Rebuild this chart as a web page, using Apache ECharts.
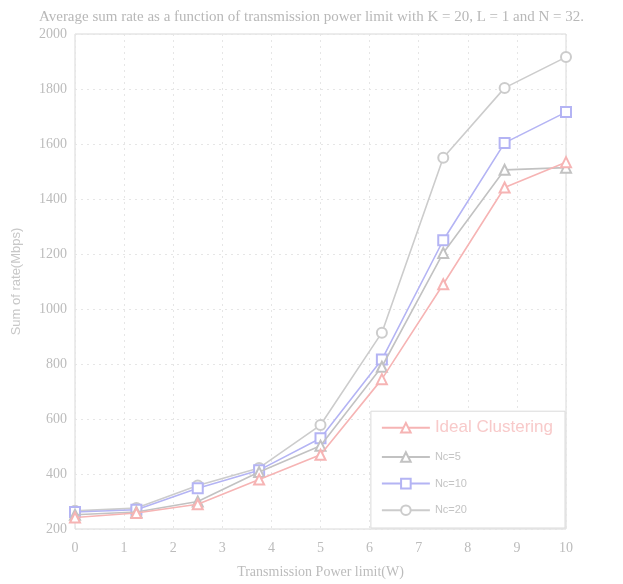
<!DOCTYPE html>
<html>
<head>
<meta charset="utf-8">
<script src="https://cdn.jsdelivr.net/npm/echarts@6/dist/echarts.min.js"></script>
<style>html,body{margin:0;padding:0;background:#fff;}#c{width:623px;height:584px;}</style>
</head>
<body>
<div id="c"></div>
<script>
const powerLimits = [0, 1.25, 2.5, 3.75, 5, 6.25, 7.5, 8.75, 10];
const seriesNames = ['Ideal Clustering', 'Nc=5', 'Nc=10', 'Nc=20'];
const idealClustering = [242, 258, 290, 380, 470, 745, 1090, 1442, 1534];
const nc5 = [252, 262, 300, 407, 503, 790, 1204, 1506, 1514];
const nc10 = [262, 270, 348, 414, 530, 816, 1250, 1604, 1716];
const nc20 = [266, 276, 358, 422, 578, 914, 1550, 1804, 1916];
const xTicks = [0,1,2,3,4,5,6,7,8,9,10];
const yTicks = [200,400,600,800,1000,1200,1400,1600,1800,2000];

const colors = ['#f6b4b4', '#c2c2c2', '#b4b4f4', '#cccccc'];
const symbols = ['emptyTriangle', 'emptyTriangle', 'emptyRect', 'emptyCircle'];
const values = [idealClustering, nc5, nc10, nc20];

const chart = echarts.init(document.getElementById('c'));
const axisText = {color: '#bcbcbc', fontFamily: 'Liberation Serif', fontSize: 14};
chart.setOption({
  animation: false,
  title: {
    text: 'Average sum rate as a function of transmission power limit with K = 20, L = 1 and N = 32.',
    left: 'center', top: 5,
    textStyle: {color: '#b8b8b8', fontFamily: 'Liberation Serif', fontSize: 15, fontWeight: 'normal'}
  },
  grid: {left: 75, right: 57, top: 34, bottom: 55, show: true, borderColor: '#d8d8d8', borderWidth: 1},
  xAxis: {
    type: 'value', min: 0, max: 10, interval: 1,
    name: 'Transmission Power limit(W)', nameLocation: 'middle', nameGap: 36,
    nameTextStyle: {color: '#bcbcbc', fontFamily: 'Liberation Serif', fontSize: 14},
    axisLine: {show: false}, axisTick: {show: false},
    axisLabel: Object.assign({margin: 12, formatter: v => xTicks.includes(v) ? String(v) : ''}, axisText),
    splitLine: {show: true, lineStyle: {color: '#e6e6e6', type: [2, 4]}}
  },
  yAxis: {
    type: 'value', min: 200, max: 2000, interval: 200,
    name: 'Sum of rate(Mbps)', nameLocation: 'middle', nameGap: 52,
    nameTextStyle: {color: '#c8c8c8', fontFamily: 'Liberation Sans', fontSize: 13},
    axisLine: {show: false}, axisTick: {show: false},
    axisLabel: Object.assign({margin: 8, formatter: v => yTicks.includes(v) ? String(v) : ''}, axisText),
    splitLine: {show: true, lineStyle: {color: '#e6e6e6', type: [2, 4]}}
  },
  legend: {
    orient: 'vertical', right: 58, bottom: 56,
    data: seriesNames,
    backgroundColor: '#fff', borderColor: '#dadada', borderWidth: 1,
    padding: [8, 12, 12, 10], itemGap: 15, itemWidth: 48, itemHeight: 12,
    formatter: n => n === 'Ideal Clustering' ? '{big|' + n + '}' : '{sm|' + n + '}',
    textStyle: {
      rich: {
        big: {color: '#f8caca', fontSize: 17, fontFamily: 'Liberation Sans'},
        sm: {color: '#c4c4c4', fontSize: 11, fontFamily: 'Liberation Sans'}
      }
    }
  },
  series: seriesNames.map((name, i) => ({
    name: name, type: 'line',
    data: powerLimits.map((x, j) => [x, values[i][j]]),
    symbol: symbols[i], symbolSize: 10,
    lineStyle: {color: colors[i], width: 1.6},
    itemStyle: {color: colors[i], borderWidth: 1.4},
    z: 10 - i
  }))
});
</script>
</body>
</html>
